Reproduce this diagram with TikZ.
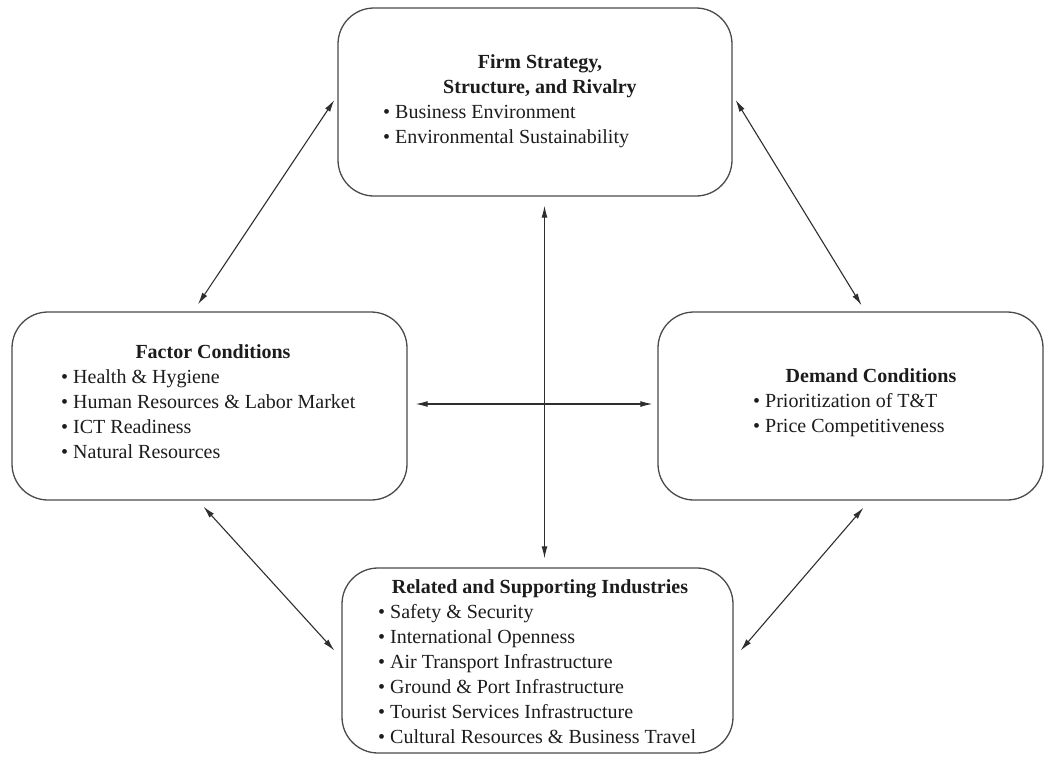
\documentclass[tikz,border=0pt]{standalone}
\usepackage{fontspec}
\setmainfont{Liberation Serif}
\usetikzlibrary{arrows.meta,calc}
\definecolor{boxline}{HTML}{4A4A4A}
\definecolor{arrowcol}{HTML}{2E2E2E}
\definecolor{ink}{HTML}{1C1C1C}
% stacked lines: the node's base anchor sits on the first line
\newcommand\linesleft[1]{\begin{tabular}[t]{@{}l@{}}#1\end{tabular}}
\newcommand\linescentered[1]{\begin{tabular}[t]{@{}c@{}}#1\end{tabular}}
\begin{document}
\begin{tikzpicture}[x=1pt,y=-1pt,
  every node/.style={font=\fontsize{20}{25}\selectfont, text=ink},
  panel/.style={draw=boxline, line width=1.3pt, rounded corners=36pt, inner sep=0pt},
  heading/.style={font=\fontsize{20}{25}\selectfont\bfseries, anchor=base, inner sep=0pt},
  entries/.style={anchor=base west, inner sep=0pt},
  link/.style={draw=arrowcol, line width=1.1pt,
    {Latex[length=12pt,width=6pt]}-{Latex[length=12pt,width=6pt]}}]
\useasboundingbox (0,0) rectangle (1045,756);

% the four boxes of the diamond
\node[panel, minimum width=394pt, minimum height=188pt] (firm) at (535,102) {};
\node[panel, minimum width=395pt, minimum height=188pt] (factor) at (209.5,406) {};
\node[panel, minimum width=385pt, minimum height=188pt] (demand) at (850.5,406) {};
\node[panel, minimum width=391pt, minimum height=185pt] (related) at (537.5,660.5) {};

% box texts
\node[heading] (firmT) at (540,68) {\linescentered{Firm Strategy,\\Structure, and Rivalry}};
\node[entries] (firmL) at (383,118) {\linesleft{• Business Environment\\• Environmental Sustainability}};

\node[heading] (factorT) at (213,358) {Factor Conditions};
\node[entries] (factorL) at (61,383) {\linesleft{• Health \& Hygiene\\• Human Resources \& Labor Market\\• ICT Readiness\\• Natural Resources}};

\node[heading] (demandT) at (871,382) {Demand Conditions};
\node[entries] (demandL) at (753,407) {\linesleft{• Prioritization of T\&T\\• Price Competitiveness}};

\node[heading] (relatedT) at (540,593) {Related and Supporting Industries};
\node[entries] (relatedL) at (378,618) {\linesleft{• Safety \& Security\\• International Openness\\• Air Transport Infrastructure\\• Ground \& Port Infrastructure\\• Tourist Services Infrastructure\\• Cultural Resources \& Business Travel}};

% two-way links
\coordinate (vx) at (544.5,0);
\draw[link] ([shift={(-3,-2)}]firm.west) -- ([shift={(-11.5,-7)}]factor.north);
\draw[link] ([shift={(3,-2)}]firm.east) -- ([shift={(11,-6)}]demand.north);
\draw[link] ([shift={(-6,6)}]factor.south) -- ([shift={(-7,-10)}]related.west);
\draw[link] ([shift={(13,7)}]demand.south) -- ([shift={(7,-10)}]related.east);
\draw[link] ([shift={(8,-2)}]factor.east) -- ([shift={(-5,-2)}]demand.west);
\draw[link, shorten <=9pt, shorten >=9pt] (firm.south -| vx) -- (related.north -| vx);
\end{tikzpicture}
\end{document}
